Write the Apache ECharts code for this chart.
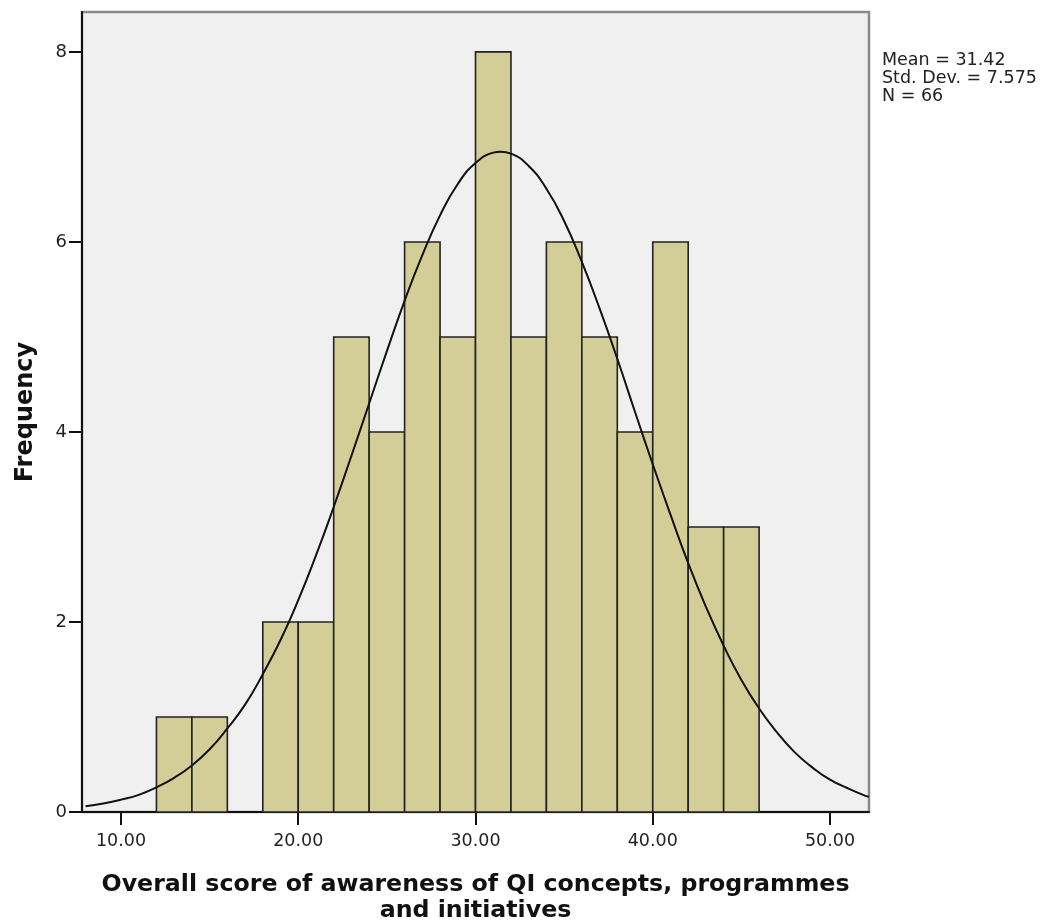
<!DOCTYPE html>
<html>
<head>
<meta charset="utf-8">
<script src="https://cdn.jsdelivr.net/npm/echarts@6/dist/echarts.min.js"></script>
<style>
html,body{margin:0;padding:0;background:#fff;}
#chart{width:1045px;height:924px;}
</style>
</head>
<body>
<div id="chart"></div>
<script>
// Histogram bins (lower edge, width 2) and counts
const binStarts = [12, 14, 18, 20, 22, 24, 26, 28, 30, 32, 34, 36, 38, 40, 42, 44];
const counts    = [1, 1, 2, 2, 5, 4, 6, 5, 8, 5, 6, 5, 4, 6, 3, 3];
const binWidth = 2;

// Normal curve
const curveX = [8, 9, 10, 11, 12, 13, 14, 15, 16, 17, 18, 19, 20, 21, 22, 23, 24, 25, 26, 27, 28, 29, 30, 31, 31.42, 32, 33, 34, 35, 36, 37, 38, 39, 40, 41, 42, 43, 44, 45, 46, 47, 48, 49, 50, 51, 52, 52.2];
const curveY = [0.06, 0.09, 0.13, 0.18, 0.26, 0.36, 0.49, 0.66, 0.88, 1.13, 1.45, 1.81, 2.23, 2.70, 3.21, 3.75, 4.30, 4.85, 5.38, 5.86, 6.28, 6.61, 6.83, 6.94, 6.95, 6.93, 6.80, 6.56, 6.22, 5.79, 5.30, 4.77, 4.21, 3.66, 3.13, 2.62, 2.16, 1.75, 1.39, 1.09, 0.84, 0.63, 0.47, 0.34, 0.25, 0.17, 0.16];

const xTicks = [10, 20, 30, 40, 50];
const yTicks = [0, 2, 4, 6, 8];
const statsLines = ['Mean = 31.42', 'Std. Dev. = 7.575', 'N = 66'];

const barData = binStarts.map((s, i) => [s, s + binWidth, counts[i]]);
const curveData = curveX.map((x, i) => [x, curveY[i]]);

const chart = echarts.init(document.getElementById('chart'));
const font = '"DejaVu Sans", "Liberation Sans", Arial, sans-serif';

chart.setOption({
  animation: false,
  backgroundColor: '#ffffff',
  grid: {
    left: 82, right: 176, top: 12, bottom: 112,
    outerBoundsMode: 'none', containLabel: false,
    show: true, backgroundColor: '#f0f0f0', borderColor: '#8a8a8a', borderWidth: 2.5
  },
  xAxis: {
    type: 'value', min: 7.8, max: 52.2,
    splitLine: { show: false },
    axisLine: { show: true, onZero: false, lineStyle: { color: '#111', width: 2 } },
    axisTick: { show: true, customValues: xTicks, length: 13, lineStyle: { color: '#111', width: 2 } },
    axisLabel: {
      customValues: xTicks, margin: 20, color: '#222', fontSize: 17.5, fontFamily: font,
      formatter: v => v.toFixed(2)
    },
    name: 'Overall score of awareness of QI concepts, programmes\nand initiatives',
    nameLocation: 'middle', nameGap: 60,
    nameTextStyle: { fontSize: 23.7, fontWeight: 'bold', color: '#111', fontFamily: font, lineHeight: 26 }
  },
  yAxis: {
    type: 'value', min: 0, max: 8.42,
    splitLine: { show: false },
    axisLine: { show: true, lineStyle: { color: '#111', width: 2 } },
    axisTick: { show: true, customValues: yTicks, length: 13, lineStyle: { color: '#111', width: 2 } },
    axisLabel: { customValues: yTicks, margin: 15, color: '#222', fontSize: 18, fontFamily: font },
    name: 'Frequency', nameLocation: 'middle', nameGap: 44, nameRotate: 90,
    nameTextStyle: { fontSize: 24, fontWeight: 'bold', color: '#111', fontFamily: font }
  },
  graphic: [{
    type: 'text', left: 882, top: 51,
    style: { text: statsLines.join('\n'), font: '17.5px ' + font, fill: '#222', lineHeight: 18.3 }
  }],
  series: [{
    type: 'custom',
    data: barData,
    encode: { x: [0, 1], y: 2 },
    renderItem: function (params, api) {
      const p0 = api.coord([api.value(0), api.value(2)]);
      const p1 = api.coord([api.value(1), 0]);
      return {
        type: 'rect',
        shape: { x: p0[0], y: p0[1], width: p1[0] - p0[0], height: p1[1] - p0[1] },
        style: { fill: '#d3ce97', stroke: '#222', lineWidth: 1.6 }
      };
    },
    z: 2
  }, {
    type: 'line',
    data: curveData,
    smooth: true,
    showSymbol: false,
    lineStyle: { color: '#111', width: 2 },
    z: 3
  }]
});
</script>
</body>
</html>
